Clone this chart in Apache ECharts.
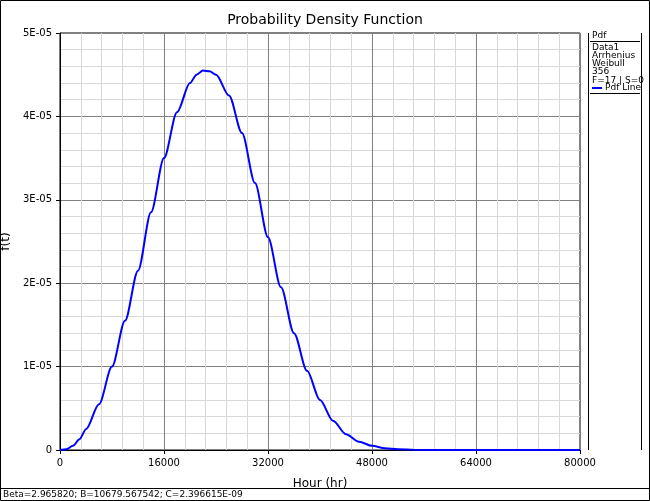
<!DOCTYPE html><html><head><meta charset="utf-8"><script src="https://cdn.jsdelivr.net/npm/echarts@6/dist/echarts.min.js"></script>
<style>html,body{margin:0;padding:0;background:#fff}#c{width:650px;height:501px}</style></head><body><div id="c"></div><script>
const xs=[0,1000,2000,3000,4000,6000,8000,10000,12000,14000,16000,18000,20000,21000,22000,23000,24000,26000,28000,30000,32000,34000,36000,38000,40000,42000,44000,46000,48000,50000,52000,56000,60000,70000,80000];
const ys=[0,0.01,0.05,0.13,0.25,0.55,1.0,1.55,2.15,2.85,3.5,4.05,4.4,4.5,4.55,4.54,4.5,4.25,3.8,3.2,2.55,1.95,1.4,0.95,0.6,0.35,0.19,0.1,0.05,0.02,0.008,0.001,0,0,0];
const yTicks=['0','1E-05','2E-05','3E-05','4E-05','5E-05'];
const legendLines=['Data1','Arrhenius','Weibull','356','F=17 | S=0'];
const data=xs.map((x,i)=>[x,ys[i]*1e-5]);
const ch=echarts.init(document.getElementById('c'));
const f='Verdana, DejaVu Sans, sans-serif';
const g=[
{type:'rect',shape:{x:0.5,y:0.5,width:649,height:500},style:{fill:'none',stroke:'#000',lineWidth:1}},
{type:'rect',shape:{x:60,y:33,width:520,height:417},style:{fill:'none',stroke:'#000',lineWidth:1}},
{type:'line',shape:{x1:0,y1:488.5,x2:650,y2:488.5},style:{stroke:'#000',lineWidth:1}},
{type:'text',x:3,y:490,style:{text:'Beta=2.965820; B=10679.567542; C=2.396615E-09',font:'9px '+f,fill:'#000'}},
{type:'line',shape:{x1:588.5,y1:33,x2:588.5,y2:450},style:{stroke:'#000',lineWidth:1}},
{type:'line',shape:{x1:641.5,y1:33,x2:641.5,y2:450},style:{stroke:'#000',lineWidth:1}},
{type:'text',x:592,y:31,style:{text:'Pdf',font:'9px '+f,fill:'#000'}},
{type:'line',shape:{x1:590,y1:41.5,x2:640,y2:41.5},style:{stroke:'#000',lineWidth:1}},
{type:'line',shape:{x1:592,y1:88,x2:602,y2:88},style:{stroke:'#0000ff',lineWidth:2}},
{type:'text',x:605,y:83,style:{text:'Pdf Line',font:'9px '+f,fill:'#000'}},
{type:'line',shape:{x1:590,y1:93.5,x2:640,y2:93.5},style:{stroke:'#000',lineWidth:1}}
];
legendLines.forEach((t,i)=>g.push({type:'text',x:592,y:43+i*8.2,style:{text:t,font:'9px '+f,fill:'#000'}}));
ch.setOption({animation:false,
title:{text:'Probability Density Function',left:320,top:8,textAlign:'center',textStyle:{fontFamily:f,fontSize:14,fontWeight:'normal',color:'#000'}},
grid:{left:60,right:70,top:33,bottom:51,containLabel:false,outerBoundsMode:'none'},
xAxis:{type:'value',min:0,max:80000,interval:16000,name:'Hour (hr)',nameLocation:'middle',nameGap:28,nameTextStyle:{fontFamily:f,fontSize:12,color:'#000'},
axisLine:{lineStyle:{color:'#000'}},axisTick:{show:true,length:4,lineStyle:{color:'#000'}},axisLabel:{fontFamily:f,fontSize:10,color:'#000',formatter:(v)=>String(v)},
splitLine:{lineStyle:{color:'#808080'}},minorTick:{show:false,splitNumber:5},minorSplitLine:{show:true,lineStyle:{color:'#d8d8d8'}}},
yAxis:{type:'value',min:0,max:5e-5,interval:1e-5,name:'f(t)',nameLocation:'middle',nameGap:42,nameTextStyle:{fontFamily:f,fontSize:12,color:'#000'},
axisLine:{show:true,lineStyle:{color:'#000'}},axisTick:{show:true,length:4,lineStyle:{color:'#000'}},axisLabel:{fontFamily:f,fontSize:10,color:'#000',formatter:(v)=>yTicks[Math.round(v/1e-5)]},
splitLine:{lineStyle:{color:'#808080'}},minorTick:{show:false,splitNumber:5},minorSplitLine:{show:true,lineStyle:{color:'#d8d8d8'}}},
series:[{type:'line',data:data,smooth:0.3,smoothMonotone:'x',showSymbol:false,lineStyle:{color:'#0000ff',width:2}}],
graphic:g});
</script></body></html>
